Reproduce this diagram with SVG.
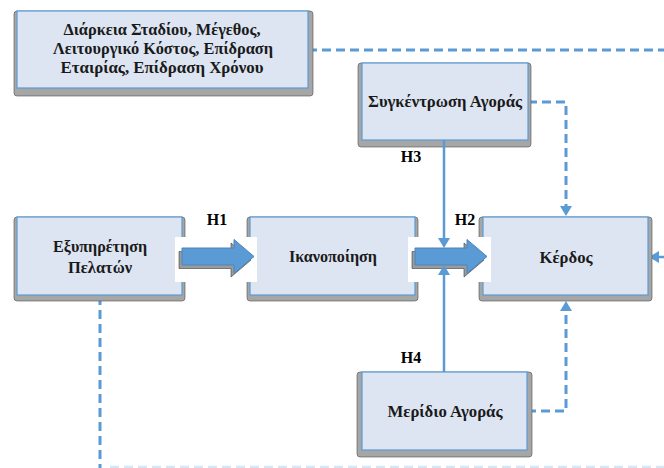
<svg xmlns="http://www.w3.org/2000/svg" width="664" height="468" viewBox="0 0 664 468">
  <style>
    .shadow { fill: #a6a6a6; stroke: #4d4d4d; stroke-width: 0.6; }
    .box { fill: #dde5f3; stroke: #5b9bd5; stroke-width: 1.2; }
    .lbl { font-family: "Liberation Serif", "Times New Roman", serif; font-weight: bold; font-size: 16px; fill: #1a1a1a; text-anchor: middle; }
    .hyp { font-family: "Liberation Serif", "Times New Roman", serif; font-weight: bold; font-size: 16px; fill: #000; text-anchor: middle; }
    .solid { fill: none; stroke: #5b9bd5; stroke-width: 2.5; }
    .dash { fill: none; stroke: #5b9bd5; stroke-width: 3; stroke-dasharray: 9 5; }
    .faint { fill: none; stroke: #5b9bd5; stroke-opacity: 0.25; stroke-width: 2.5; stroke-dasharray: 9 5; }
    .bg { fill: #ffffff; }
    .block { fill: #5b9bd5; stroke: #4a84bd; stroke-width: 1; }
    .blockShadow { fill: #9b9b9b; stroke: #3c3c3c; stroke-width: 0.6; }
  </style>
  <defs>
    <marker id="head" viewBox="0 0 10 12" markerWidth="10" markerHeight="12" refX="6" refY="6" orient="auto" markerUnits="userSpaceOnUse">
      <path d="M0,0 L10,6 L0,12 Z" fill="#5b9bd5" stroke="none"/>
    </marker>
    <!-- block arrow outline, origin at the shaft's left end, centre line y=0 -->
    <path id="blockArrow" d="M0,-8.5 H52 V-17 L72,0 L52,17 V8.5 H0 Z"/>
  </defs>

  <rect width="664" height="468" fill="#ffffff"/>

  <!-- connectors -->
  <g id="connectors">
    <path class="dash" d="M308,50 H664"/>
    <path class="dash" d="M100,296 V468"/>
    <path class="faint" d="M110,467 H664"/>
    <path class="dash" d="M528,102 H566 V212" marker-end="url(#head)"/>
    <path class="dash" d="M527,411 H566 V305" marker-end="url(#head)"/>
    <path class="solid" d="M664,257 H653" marker-end="url(#head)"/>
  </g>

  <!-- nodes -->
  <g id="node-controls">
    <rect class="shadow" x="14" y="11" width="299" height="85" rx="3"/>
    <rect class="box" x="17" y="11" width="291" height="77"/>
    <text class="lbl" x="162" y="35" textLength="197" lengthAdjust="spacingAndGlyphs">Διάρκεια Σταδίου, Μέγεθος,</text>
    <text class="lbl" x="163" y="54" textLength="220" lengthAdjust="spacingAndGlyphs">Λειτουργικό Κόστος, Επίδραση</text>
    <text class="lbl" x="162" y="73" textLength="203" lengthAdjust="spacingAndGlyphs">Εταιρίας, Επίδραση Χρόνου</text>
  </g>

  <g id="node-concentration">
    <rect class="shadow" x="358" y="63" width="173" height="84" rx="3"/>
    <rect class="box" x="362" y="63" width="166" height="77"/>
    <text class="lbl" x="445" y="107" textLength="154" lengthAdjust="spacingAndGlyphs">Συγκέντρωση Αγοράς</text>
  </g>

  <g id="node-service">
    <rect class="shadow" x="14" y="217" width="171" height="84" rx="3"/>
    <rect class="box" x="17" y="217" width="165" height="78"/>
    <text class="lbl" x="100" y="252" textLength="94" lengthAdjust="spacingAndGlyphs">Εξυπηρέτηση</text>
    <text class="lbl" x="100" y="273" textLength="64" lengthAdjust="spacingAndGlyphs">Πελατών</text>
  </g>

  <g id="node-satisfaction">
    <rect class="shadow" x="247" y="217" width="171" height="84" rx="3"/>
    <rect class="box" x="250" y="217" width="165" height="78"/>
    <text class="lbl" x="333" y="262" textLength="88" lengthAdjust="spacingAndGlyphs">Ικανοποίηση</text>
  </g>

  <g id="node-profit">
    <rect class="shadow" x="479" y="217" width="173" height="84" rx="3"/>
    <rect class="box" x="483" y="217" width="165" height="78"/>
    <text class="lbl" x="566" y="263" textLength="53" lengthAdjust="spacingAndGlyphs">Κέρδος</text>
  </g>

  <g id="node-share">
    <rect class="shadow" x="357" y="372" width="175" height="85" rx="3"/>
    <rect class="box" x="362" y="372" width="165" height="78"/>
    <text class="lbl" x="445" y="417" textLength="115" lengthAdjust="spacingAndGlyphs">Μερίδιο Αγοράς</text>
  </g>

  <!-- H1 block arrow -->
  <g id="arrow-h1">
    <rect class="bg" x="175" y="237" width="82" height="45"/>
    <use href="#blockArrow" class="blockShadow" transform="translate(179,260)"/>
    <use href="#blockArrow" class="block" transform="translate(182,256.5)"/>
  </g>

  <!-- H2 block arrow -->
  <g id="arrow-h2">
    <rect class="bg" x="408" y="237" width="83" height="45"/>
    <use href="#blockArrow" class="blockShadow" transform="translate(412,260)"/>
    <use href="#blockArrow" class="block" transform="translate(415,256.5)"/>
  </g>

  <!-- H3 / H4 feed into the H2 arrow -->
  <g id="connectors-h">
    <path class="solid" d="M444,140 V244" marker-end="url(#head)"/>
    <path class="solid" d="M444,372 V269" marker-end="url(#head)"/>
  </g>

  <!-- hypothesis labels -->
  <g id="labels">
    <text class="hyp" x="217" y="225">H1</text>
    <text class="hyp" x="465" y="225">H2</text>
    <text class="hyp" x="411" y="162">H3</text>
    <text class="hyp" x="411" y="363">H4</text>
  </g>
</svg>
